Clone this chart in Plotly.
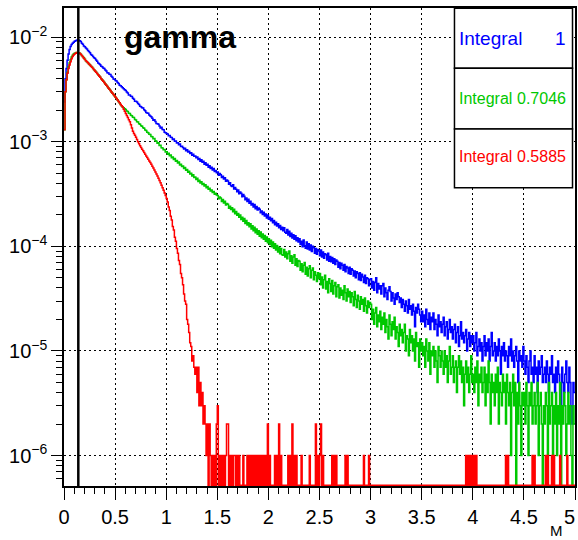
import numpy as np
import plotly.graph_objects as go

# ---------------- data (bin contents in units of 1e-6, 500 bins of 0.01 on [0,5]) -------------
x_min, x_max, n_bins = 0.0, 5.0, 500
count_unit = 1e-6

blue_counts = [
    2400, 4000, 5000, 6000, 6900, 7600, 8100, 8500, 8700, 8900, 9100, 9200, 9300, 9350, 9300,
    9200, 9050, 8740, 8510, 8200, 8070, 7850, 7700, 7450, 7260, 7060, 6820, 6700, 6530, 6350,
    6250, 6030, 5870, 5660, 5570,
    5430, 5250, 5190, 5070, 5010, 4840, 4730, 4560, 4520, 4420, 4390, 4220, 4120, 3970, 3940,
    3850, 3810, 3670, 3590, 3460, 3430, 3350, 3270,
    3200, 3130, 3090, 2990, 2920, 2800, 2790, 2720, 2700, 2600, 2540, 2440, 2430, 2400, 2320,
    2260, 2180, 2160, 2110, 2100, 2020, 1970, 1900, 1880, 1870, 1800,
    1760, 1730, 1670, 1600, 1620, 1560, 1490, 1480, 1470, 1410, 1350, 1370, 1310, 1300, 1230, 1220,
    1200, 1185, 1140, 1145, 1100, 1095, 1050, 1060, 1010, 1015, 970, 975, 935, 950, 900, 905,
    880, 850, 865, 820, 835, 795, 810, 770, 785, 740, 760, 725, 730, 700, 715, 675, 690, 650,
    670, 635, 650, 610, 630, 595, 610, 570, 590, 555, 570, 535, 555, 520, 530,
    505, 512, 478, 495, 482, 455, 468, 440, 452, 418, 430, 421, 392, 405, 380, 372, 388, 352,
    365, 350, 332, 345, 318, 331, 322, 298, 312, 300, 278, 290, 268, 282,
    258, 270, 248, 256, 238, 251, 229, 240, 222, 232, 226, 209, 218, 201, 212, 195, 204, 186,
    199, 181, 190, 175, 184, 168, 176, 161, 170, 156, 164, 150, 158, 145, 152,
    141, 150, 136, 133, 145, 128, 139, 124, 133, 120, 129, 117, 126, 113, 121, 110,
    118, 104, 112, 99, 115, 101, 96, 110, 94, 106,
    92, 103, 89, 100, 97, 86, 95, 84, 93, 90,
    81, 92, 79, 88, 77, 85, 83, 74, 86, 72,
    80, 71, 78, 69, 76, 67, 74, 72, 63, 70,
    61, 69, 66, 59, 67, 57, 64, 62, 55, 63,
    54, 61, 59, 52, 58, 50, 57, 55, 48, 56,
    47, 54, 51, 45, 53, 44, 50, 49, 42, 48,
    49, 40, 46, 38, 45, 50, 36, 44, 39, 42,
    35, 42, 44, 33, 40, 36, 31, 38, 41, 37,
    30, 36, 32, 28, 35, 31, 36, 33, 29, 32,
    26, 31, 28, 24, 30, 27, 23, 31, 25, 27,
    22, 28, 24, 17, 26, 23, 28, 25, 22, 19,
    24, 19, 22, 17, 25, 20, 18, 23, 16, 21,
    19, 23, 16, 20, 18, 14, 22, 17, 19, 15,
    18, 21, 14, 17, 19, 13, 16, 20, 15, 17,
    13, 16, 18, 12, 15, 17, 11, 14, 19, 13,
    15, 12, 14, 16, 10, 13, 15, 11, 14, 12,
    14, 10, 12, 15, 9, 11, 13, 10, 12, 8,
    11, 14, 9, 12, 10, 13, 8, 11, 15, 9,
    10, 12, 8, 11, 9, 13, 10, 6, 11, 9,
    12, 8, 10, 9, 7, 11, 9, 13, 8, 10,
    7, 9, 11, 8, 5, 10, 8, 9, 7, 11,
    8, 6, 9, 7, 5, 8, 10, 6, 7, 5,
    9, 6, 7, 4, 8, 6, 7, 9, 5, 6,
    7, 5, 8, 6, 4, 7, 6, 9, 5, 6,
    4, 7, 5, 8, 6, 3, 2, 7, 5, 4,
    6, 8, 5, 4, 7, 5, 3, 2, 5, 4,
]

green_counts = [
    1300, 3000, 3900, 4600, 5200, 5650, 6050, 6450, 6700, 6900, 7000, 7050, 7100, 7100, 7050,
    7000, 6840, 6650, 6500, 6330, 6140, 5940,
    5800, 5670, 5530, 5400, 5260, 5130, 5000, 4870, 4740, 4610, 4480, 4360, 4240, 4120, 4000,
    3890, 3780, 3670, 3560, 3460, 3360, 3260, 3170, 3080, 2990, 2910, 2820, 2740, 2660, 2580,
    2500, 2420, 2350, 2270, 2200, 2140,
    2110, 2060, 2030, 1960, 1940, 1870, 1860, 1790, 1770, 1710, 1700, 1630, 1610, 1550, 1540,
    1480, 1470, 1420, 1400, 1360, 1340, 1290, 1280, 1230, 1220, 1180,
    1170, 1120, 1115, 1065, 1075, 1020, 1010, 965, 975, 920, 925, 875, 870, 835, 840, 795,
    800, 760, 775, 735, 745, 700, 715, 675, 690, 650, 660, 625, 640, 600, 610, 580,
    585, 555, 565, 532, 541, 510, 522, 490, 500, 470, 482, 455, 460, 436,
    446, 417, 428, 403, 414, 390, 399, 376, 387, 363, 372, 350, 358, 337, 345, 327, 334, 314, 322,
    310, 305, 285, 296, 290, 268, 280, 259, 270, 248, 257, 252, 231, 242, 225, 233, 214, 226,
    205, 215, 198, 206, 189, 199, 180, 190, 174, 184, 165, 176, 160, 168,
    154, 164, 146, 157, 141, 152, 135, 146, 130, 141, 125, 137, 121, 131, 117, 127, 112, 123,
    108, 118, 104, 114, 99, 110, 96, 106, 92, 102, 88, 98, 85, 95, 83,
    82, 93, 79, 88, 76, 85, 90, 72, 81, 69, 79, 83, 66, 76, 64, 73,
    72, 59, 68, 57, 66, 70, 54, 63, 52, 61,
    65, 50, 59, 62, 48, 57, 53, 46, 56, 49,
    55, 43, 51, 40, 48, 53, 39, 46, 36, 49,
    44, 37, 47, 35, 42, 45, 33, 41, 43, 32,
    40, 34, 38, 31, 42, 36, 30, 39, 33, 37,
    29, 36, 33, 27, 37, 31, 26, 34, 30, 25,
    33, 28, 31, 24, 32, 27, 23, 30, 26, 29,
    28, 20, 25, 18, 23, 26, 17, 22, 19, 24,
    16, 21, 18, 23, 15, 20, 17, 13, 22, 18,
    14, 19, 16, 21, 13, 17, 15, 11, 18, 14,
    16, 12, 15, 18, 10, 14, 13, 9, 16, 12,
    14, 10, 13, 8, 15, 11, 12, 7, 13, 10,
    12, 9, 11, 7, 13, 10, 8, 12, 6, 10,
    9, 11, 7, 10, 8, 5, 11, 9, 7, 10,
    8, 6, 10, 7, 9, 5, 8, 11, 6, 7,
    9, 5, 7, 8, 4, 7, 9, 6, 8, 5,
    7, 3, 6, 8, 5, 7, 4, 6, 9, 5,
    6, 4, 7, 5, 8, 3, 6, 5, 7, 4,
    5, 7, 3, 6, 4, 8, 5, 2, 6, 4,
    5, 3, 6, 4, 7, 2, 5, 4, 3, 6,
    4, 5, 2, 6, 4, 3, 5, 1, 4, 6,
    3, 5, 0, 4, 2, 5, 3, 1, 4, 3,
    4, 2, 5, 3, 1, 4, 3, 5, 2, 3,
    4, 2, 3, 5, 1, 3, 4, 2, 0, 3,
    2, 4, 3, 1, 5, 2, 3, 4, 1, 3,
    2, 4, 1, 3, 2, 5, 0, 3, 2, 4,
    3, 1, 2, 4, 2, 3, 1, 0, 3, 2,
]

red_counts_body = [
    1300, 3000, 3900, 4500, 5000, 5400, 5800, 6200, 6500, 6750, 6900, 7000, 7100, 7100, 7050,
    7000, 6840, 6650, 6470, 6280, 6110, 5940,
    5800, 5670, 5530, 5400, 5260, 5130, 5000, 4870, 4740, 4610, 4480, 4360, 4240, 4120, 4000,
    3890, 3780, 3670, 3560, 3460, 3360, 3260, 3170, 3080, 2990, 2910, 2820, 2740, 2660, 2580,
    2500, 2420, 2350, 2270, 2200, 2140,
    2040, 1950, 1860, 1780, 1700, 1620, 1550, 1450, 1350, 1260,
    1200, 1150, 1100, 1050, 1000, 955, 912, 879, 847, 817,
    787, 759, 731, 705, 679, 655, 631, 607, 583, 560,
    537, 514, 491, 469, 447, 425, 404, 383, 363, 344,
    324, 305, 287, 265, 238, 220, 194, 178, 155, 143,
    122, 112, 95, 86, 73, 67, 55, 50, 43, 35,
    30, 28, 20, 18, 15, 12, 11, 8, 9, 7,
    6, 7, 4, 7, 3, 5, 3, 4, 2, 3,
    2, 1,
]

# red tail, x = 1.40 ... 5.00, one digit per 0.01 bin (single-entry level)
red_tail_digits = (
    "2021010102" "3010101012" "2010101101" "0100010001" "0101010101"
    "0101010102" "0100001010" "2010000001" "0102010100" "0010000000"
    "1000002010" "1201000000" "0010101000" "0000010100" "0000000000"
    "0001000010"
    "0000000000" "0000000000" "0000000000" "0000000000" "0000000000"
    "0000000000" "0000000000" "0000000000" "0000000000"
    "0001010101" "0101000000" "0000000000" "0000000000" "0010100000"
    "0000000000" "0000000010" "1000000000" "0101000101" "0000010000"
    "0010000000"
)
red_counts = red_counts_body + [int(c) for c in red_tail_digits]

labels = ["Integral", "Integral", "Integral"]
integrals = ["1", "0.7046", "0.5885"]
colors = ["#0000ff", "#00c800", "#ff0000"]
marker_mass = 0.14
title_text = "gamma"
x_title = "M"

y_tick_vals = [1e-6, 1e-5, 1e-4, 1e-3, 1e-2]
y_tick_text = ["10<sup>\u22126</sup>", "10<sup>\u22125</sup>", "10<sup>\u22124</sup>",
               "10<sup>\u22123</sup>", "10<sup>\u22122</sup>"]

# ---------------- plotting -------------------------------------------------------------------
ymin_log, ymax_log = -6.291, -1.7225
edges = np.linspace(x_min, x_max, n_bins + 1)
floor_val = 10 ** (ymin_log + 0.008)


def step_values(counts):
    assert len(counts) == n_bins, len(counts)
    v = np.array(counts, dtype=float) * count_unit
    v = np.where(v > 0, v, floor_val)
    return np.append(v, v[-1])


FONT = "Liberation Sans, Arial, Helvetica, sans-serif"
fig = go.Figure()
for counts, col in zip([blue_counts, green_counts, red_counts], colors):
    fig.add_trace(go.Scatter(x=edges, y=step_values(counts), mode="lines",
                             line=dict(color=col, width=1.5, shape="hv"),
                             hoverinfo="skip", showlegend=False))

L, R, T, B = 64, 1, 8, 54
W, H = 578, 540
pw, ph = W - L - R, H - T - B


def px_x(p):
    return (p - L) / pw


def px_y(p):
    return (H - B - p) / ph


minor_y = [k * 10.0 ** e for e in range(-7, -1) for k in range(2, 10)]

fig.update_layout(
    width=W, height=H,
    margin=dict(l=L, r=R, t=T, b=B),
    paper_bgcolor="white", plot_bgcolor="white",
    font=dict(family=FONT, color="black"),
    showlegend=False,
    xaxis=dict(range=[x_min, x_max], showline=True, linecolor="black", linewidth=1.5,
               mirror=True, ticks="outside", ticklen=12, tickwidth=1.2, tickcolor="black",
               tick0=0, dtick=0.5, showgrid=True, gridcolor="black", gridwidth=1,
               griddash="2px,3px", zeroline=False, tickfont=dict(size=20, family=FONT),
               minor=dict(dtick=0.1, tick0=0, ticklen=6, ticks="outside", tickcolor="black",
                          tickwidth=1, showgrid=False)),
    yaxis=dict(type="log", range=[ymin_log, ymax_log], showline=True, linecolor="black",
               linewidth=1.5, mirror=True, ticks="outside", ticklen=11, tickwidth=1.2,
               tickcolor="black", tickmode="array", tickvals=y_tick_vals, ticktext=y_tick_text,
               showgrid=True, gridcolor="black", gridwidth=1, griddash="2px,3px",
               zeroline=False, tickfont=dict(size=20, family=FONT),
               minor=dict(tickmode="array", tickvals=minor_y, ticklen=6, ticks="outside",
                          tickcolor="black", tickwidth=1, showgrid=False)),
)

# vertical marker line
fig.add_shape(type="line", xref="x", yref="paper", x0=marker_mass, x1=marker_mass, y0=0, y1=1,
              line=dict(color="black", width=2.5), layer="above")

# stat boxes
box_x0, box_x1 = px_x(456), px_x(574.5)
box_edges = [8.3, 68.3, 129.0, 187.7]
text_y = [38.3, 98.3, 156.7]
text_sizes = [19, 16, 16]
for k in range(3):
    fig.add_shape(type="rect", xref="paper", yref="paper", x0=box_x0, x1=box_x1,
                  y0=px_y(box_edges[k + 1]), y1=min(1.0, px_y(box_edges[k])),
                  line=dict(color="black", width=1.5), fillcolor="white", layer="above")
    fig.add_annotation(xref="paper", yref="paper", x=px_x(459), y=px_y(text_y[k]),
                       xanchor="left", yanchor="middle", showarrow=False, text=labels[k],
                       font=dict(size=text_sizes[k], color=colors[k], family=FONT))
    fig.add_annotation(xref="paper", yref="paper", x=px_x(570), y=px_y(text_y[k]),
                       xanchor="right", yanchor="middle", showarrow=False, text=integrals[k],
                       font=dict(size=text_sizes[k], color=colors[k], family=FONT))

# last x tick label (shifted inside the page like the reference)
fig.add_annotation(xref="paper", yref="paper", x=px_x(578), y=px_y(517), xanchor="right",
                   yanchor="middle", showarrow=False, text="5", borderpad=0,
                   font=dict(size=20, color="black", family=FONT))

fig.add_annotation(xref="paper", yref="paper", x=px_x(566), y=px_y(530), xanchor="right",
                   yanchor="middle", showarrow=False, text=x_title, borderpad=0,
                   font=dict(size=15, color="black", family=FONT))

fig.add_annotation(xref="paper", yref="paper", x=px_x(122), y=px_y(37), xanchor="left",
                   yanchor="middle", showarrow=False, text="<b>%s</b>" % title_text,
                   font=dict(size=32, color="black", family=FONT))

fig.write_html("out.html")
